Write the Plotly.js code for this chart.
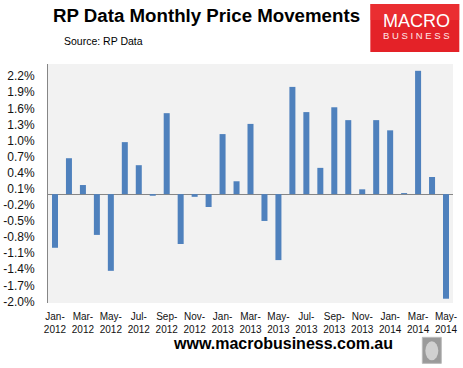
<!DOCTYPE html>
<html>
<head>
<meta charset="utf-8">
<script src="https://cdn.plot.ly/plotly-3.0.1.min.js"></script>
<style>html,body{margin:0;padding:0;background:#fff;}#chart{width:463px;height:368px;}</style>
</head>
<body>
<div id="chart"></div>
<script>
const months = ["Jan-2012","Feb-2012","Mar-2012","Apr-2012","May-2012","Jun-2012","Jul-2012","Aug-2012","Sep-2012","Oct-2012","Nov-2012","Dec-2012",
"Jan-2013","Feb-2013","Mar-2013","Apr-2013","May-2013","Jun-2013","Jul-2013","Aug-2013","Sep-2013","Oct-2013","Nov-2013","Dec-2013",
"Jan-2014","Feb-2014","Mar-2014","Apr-2014","May-2014"];
const changes = [-1.00,0.67,0.17,-0.76,-1.43,0.97,0.54,-0.03,1.51,-0.93,-0.05,-0.24,
1.12,0.24,1.31,-0.50,-1.23,2.00,1.53,0.49,1.62,1.38,0.09,1.38,
1.19,0.02,2.30,0.32,-1.95];
const xTickMonths = ["Jan-2012","Mar-2012","May-2012","Jul-2012","Sep-2012","Nov-2012","Jan-2013","Mar-2013","May-2013","Jul-2013","Sep-2013","Nov-2013","Jan-2014","Mar-2014","May-2014"];
const yTicks = [-2.0,-1.7,-1.4,-1.1,-0.8,-0.5,-0.2,0.1,0.4,0.7,1.0,1.3,1.6,1.9,2.2];

const trace = {
  type: "bar",
  x: months,
  y: changes,
  marker: {color: "#4f81bd", line: {width: 0}},
  hoverinfo: "x+y"
};

const layout = {
  width: 463, height: 368,
  margin: {l: 47.5, r: 10.3, t: 64, b: 65.3},
  paper_bgcolor: "#ffffff",
  plot_bgcolor: "#f2f2f2",
  bargap: 0.57,
  showlegend: false,
  font: {family: "Liberation Sans, Arial, sans-serif", color: "#111"},
  xaxis: {
    type: "category",
    tickvals: xTickMonths,
    ticktext: xTickMonths.map(m => m.replace("-", "-<br>")),
    tickangle: 0,
    showgrid: false, zeroline: false, showline: false,
    ticks: "", ticklabelstandoff: 6,
    tickfont: {size: 10, color: "#111", family: "Liberation Sans, Arial, sans-serif"},
    fixedrange: true
  },
  yaxis: {
    range: [-2.03, 2.427],
    tickvals: yTicks,
    ticktext: yTicks.map(v => v.toFixed(1) + "%"),
    showgrid: false,
    zeroline: true, zerolinecolor: "#868686", zerolinewidth: 1,
    showline: true, linecolor: "#868686", linewidth: 1,
    ticks: "", ticklabelstandoff: 10,
    tickfont: {size: 12, color: "#111", family: "Liberation Sans, Arial, sans-serif"},
    fixedrange: true
  },
  shapes: [
    {type: "rect", xref: "paper", yref: "paper", layer: "above",
     x0: (370-47.5)/405.2, x1: (459-47.5)/405.2, y0: (302.7-4)/238.7, y1: (302.7-52)/238.7,
     fillcolor: "#e42228", line: {width: 0}},
    {type: "rect", xref: "paper", yref: "paper", layer: "above",
     x0: (370-47.5)/405.2, x1: (459-47.5)/405.2, y0: (302.7-4)/238.7, y1: (302.7-20)/238.7,
     fillcolor: "#ef3a3a", opacity: 0.5, line: {width: 0}},
    {type: "rect", xref: "paper", yref: "paper", layer: "above",
     x0: (422-47.5)/405.2, x1: (441-47.5)/405.2, y0: (302.7-337)/238.7, y1: (302.7-363)/238.7,
     fillcolor: "#9a9a9a", line: {width: 1, color: "#bbbbbb"}},
    {type: "circle", xref: "paper", yref: "paper", layer: "above",
     x0: (425-47.5)/405.2, x1: (438-47.5)/405.2, y0: (302.7-341)/238.7, y1: (302.7-360)/238.7,
     fillcolor: "#d0d0d0", line: {width: 0}}
  ],
  annotations: [
    {text: "<b>RP Data Monthly Price Movements</b>", xref: "paper", yref: "paper",
     x: (206-47.5)/405.2, y: (302.7-16)/238.7, xanchor: "center", yanchor: "middle",
     showarrow: false, font: {size: 18.7, color: "#000", family: "Liberation Sans, Arial, sans-serif"}},
    {text: "Source: RP Data", xref: "paper", yref: "paper",
     x: (62-47.5)/405.2, y: (302.7-41)/238.7, xanchor: "left", yanchor: "middle",
     showarrow: false, font: {size: 10.5, color: "#000", family: "Liberation Sans, Arial, sans-serif"}},
    {text: "MACRO", xref: "paper", yref: "paper",
     x: (416-47.5)/405.2, y: (302.7-21.5)/238.7, xanchor: "center", yanchor: "middle",
     showarrow: false, font: {size: 18, color: "#ffffff", family: "Liberation Sans, Arial, sans-serif"}},
    {text: "B U S I N E S S", xref: "paper", yref: "paper",
     x: (416-47.5)/405.2, y: (302.7-35.5)/238.7, xanchor: "center", yanchor: "middle",
     showarrow: false, font: {size: 9.5, color: "#ffe8e8", family: "Liberation Sans, Arial, sans-serif"}},
    {text: "<b>www.macrobusiness.com.au</b>", xref: "paper", yref: "paper",
     x: (282.5-47.5)/405.2, y: (302.7-343)/238.7, xanchor: "center", yanchor: "middle",
     showarrow: false, font: {size: 16, color: "#000", family: "Liberation Sans, Arial, sans-serif"}}
  ]
};

Plotly.newPlot("chart", [trace], layout, {displayModeBar: false, staticPlot: true});
</script>
</body>
</html>
